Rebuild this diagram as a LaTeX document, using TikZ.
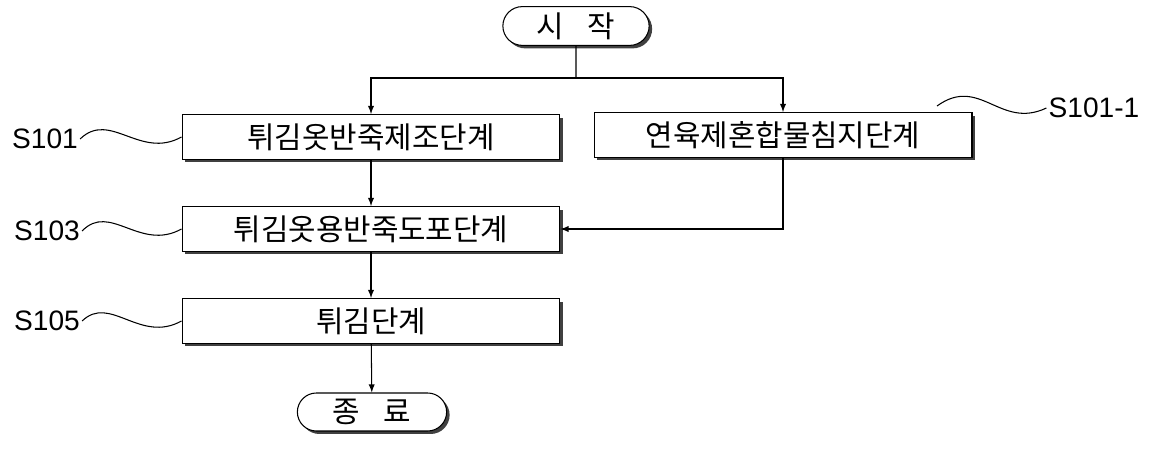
\documentclass[tikz,border=0pt]{standalone}
\usepackage{fontspec}
\setmainfont{Liberation Sans}
\newfontfamily\kor{Noto Sans CJK KR}
\usetikzlibrary{arrows,shapes,shadows,positioning,calc}
\tikzset{
    stage/.style={
        rectangle,
        draw=black,
        fill=white,
        minimum width=7.56cm,
        minimum height=0.9cm,
        font=\kor\fontsize{17}{17}\selectfont,
        drop shadow={shadow xshift=0.06cm,shadow yshift=-0.06cm,fill=black!75,opacity=1},
    },
    term/.style={
        rounded rectangle,
        draw=black,
        fill=white,
        minimum height=0.76cm,
        font=\kor\fontsize{17}{17}\selectfont,
        drop shadow={shadow xshift=0.06cm,shadow yshift=-0.06cm,fill=black!75,opacity=1},
    },
    tag/.style={
        font=\fontsize{16}{16}\selectfont,
        inner sep=1pt,
    },
}
\begin{document}
\begin{tikzpicture}[x=0.02cm,y=-0.02cm,>=latex,semithick]
	    \useasboundingbox (0,0) rectangle (1149,449);
	    \node [term,minimum width=3.16cm] (start) at (576,26) {시\hspace{0.8em}작};
	    \node [stage] (s1) at (371,137) {튀김옷반죽제조단계};
	    \node [stage] (s11) at (783,135) {연육제혼합물침지단계};
	    \node [stage] (s3) at (371,229) {튀김옷용반죽도포단계};
	    \node [stage] (s5) at (371,321) {튀김단계};
	    \node [term,minimum width=3.22cm] (end) at (372,412) {종\hspace{0.8em}료};
	    \coordinate (split) at (576,78);
	    \coordinate (l11) at (937,106);
	    \node [tag] (t1) at (45,139) {S101};
	    \node [tag] (t3) at (47,231) {S103};
	    \node [tag] (t5) at (47,321) {S105};
	    \node [tag] (t11) at (1094,108) {S101-1};
	    % arrows
	    \draw (start) -- (split);
	    \draw [->] (split) -| (s1);
	    \draw [->] (split) -| (s11);
	    \draw [->] (s1) -- (s3);
	    \draw [->] (s11.south) |- (s3.east);
	    \draw [->] (s3) -- (s5);
	    \draw [->] (s5) -- (end);
	    % leaders
	    \draw (t1.east) .. controls (110,110) and (140,160) .. (s1.west);
	    \draw (t3.east) .. controls (110,202) and (140,252) .. (s3.west);
	    \draw (t5.east) .. controls (110,294) and (140,344) .. (s5.west);
	    \draw (l11) .. controls (980,75) and (1000,130) .. (t11.west);
\end{tikzpicture}
\end{document}
